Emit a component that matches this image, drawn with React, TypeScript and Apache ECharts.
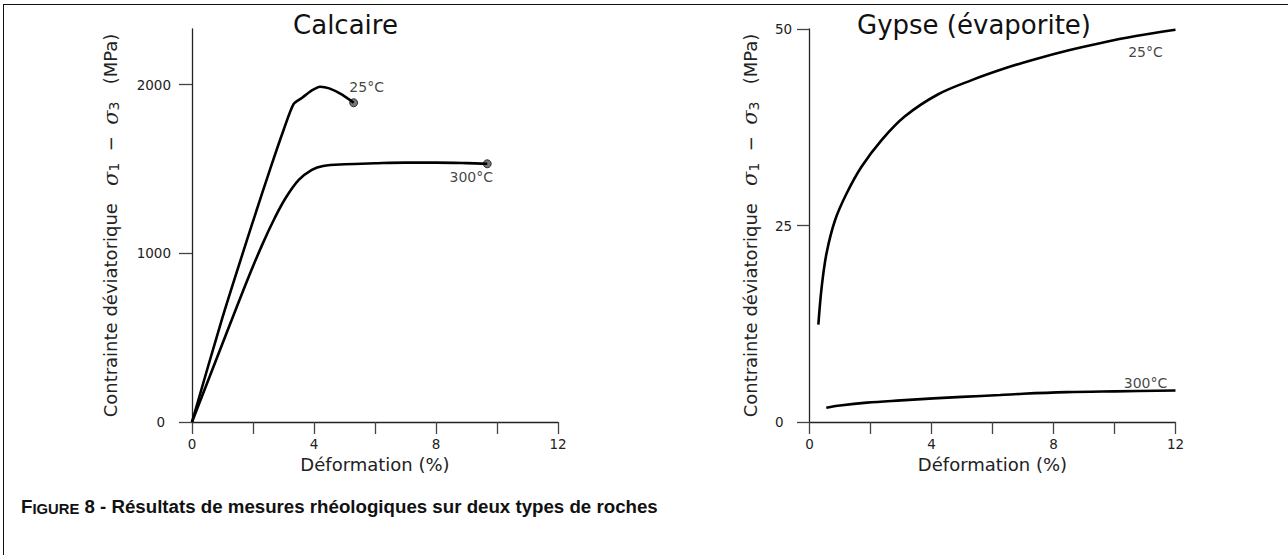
import React, { useEffect, useRef } from 'react';
import * as echarts from 'echarts';

// ---- Data ----
const calc25X = [0, 1, 2, 2.6, 3.0, 3.33, 3.6, 3.93, 4.2, 4.5, 4.92, 5.3];
const calc25Y = [0, 620, 1190, 1520, 1730, 1885, 1921, 1966, 1988, 1978, 1941, 1893];

const calc300X = [0, 1, 1.8, 2.3, 2.7, 3.06, 3.5, 3.93, 4.3, 5, 6, 7, 8, 9, 9.68];
const calc300Y = [0, 465, 835, 1050, 1205, 1325, 1435, 1495, 1518, 1528, 1534, 1538, 1538, 1535, 1531];

const gyp25X = [0.29, 0.4, 0.56, 0.84, 1.22, 1.71, 2.37, 3.13, 4.22, 5.32, 6.41, 7.34, 8.5, 9.52, 10.7, 12];
const gyp25Y = [12.4, 17.2, 21.5, 25.7, 29.1, 32.5, 35.9, 38.9, 41.7, 43.5, 45.0, 46.1, 47.3, 48.2, 49.1, 49.9];

const gyp300X = [0.55, 1.0, 1.88, 3, 4.06, 5, 6.25, 7, 8.43, 10, 12];
const gyp300Y = [1.82, 2.1, 2.46, 2.75, 3.0, 3.2, 3.43, 3.6, 3.8, 3.9, 4.0];

const curveLabels = ['25°C', '300°C'];
const chartTitles = ['Calcaire', 'Gypse (évaporite)'];
const xTickValues = [0, 2, 4, 6, 8, 10, 12];
const xLabelValues = [0, 4, 8, 12];
const calcYTicks = [0, 1000, 2000];
const gypYTicks = [0, 25, 50];
const xName = 'Déformation (%)';
const yName = 'Contrainte déviatorique   {s|σ}{b|1}  −  {s|σ}{b|3}   (MPa)';
const captionLead = 'F';
const captionSmall = 'IGURE';
const captionRest = ' 8 - Résultats de mesures rhéologiques sur deux types de roches';

const FONT = 'DejaVu Sans';
const INK = '#111';

const pairs = (xs: number[], ys: number[]) => xs.map((x, i) => [x, ys[i]]);
const last = (xs: number[], ys: number[]) => [[xs[xs.length - 1], ys[ys.length - 1]]];

const axisLineStyle = { color: '#222', width: 1.3 };
const tickLineStyle = { color: '#444', width: 1.3 };

function makeX(gridIndex: number) {
  return {
    type: 'value',
    gridIndex,
    min: 0,
    max: 12,
    interval: 2,
    axisLine: { show: true, onZero: false, lineStyle: axisLineStyle },
    axisTick: { show: true, length: 12, customValues: xTickValues, lineStyle: tickLineStyle },
    axisLabel: { customValues: xLabelValues, margin: 15, fontFamily: FONT, fontSize: 13.5, color: '#222' },
    splitLine: { show: false },
    name: xName,
    nameLocation: 'middle',
    nameGap: 29,
    nameTextStyle: { fontFamily: FONT, fontSize: 18, color: '#222' },
  };
}

const yNameStyle = (fontSize: number) => ({
  fontFamily: FONT,
  fontSize,
  color: '#222',
  rich: {
    s: { fontFamily: 'DejaVu Serif', fontStyle: 'italic', fontSize: fontSize + 3, color: '#222' },
    b: { fontFamily: FONT, fontSize: fontSize - 4, color: '#222', verticalAlign: 'bottom' },
  },
});

export default function App() {
  const ref = useRef<HTMLDivElement>(null);

  useEffect(() => {
    document.body.style.margin = '0';
    if (!ref.current) return;
    const chart = echarts.init(ref.current, null, { renderer: 'svg' });

    const option: any = {
      animation: false,
      backgroundColor: '#fff',
      title: [
        {
          text: chartTitles[0], left: 345.5, top: 12, textAlign: 'center', padding: 0,
          textStyle: { fontFamily: FONT, fontSize: 26, fontWeight: 'normal', color: INK },
        },
        {
          text: chartTitles[1], left: 974, top: 12, textAlign: 'center', padding: 0,
          textStyle: { fontFamily: FONT, fontSize: 26, fontWeight: 'normal', color: INK },
        },
      ],
      grid: [
        { left: 192, top: 29, width: 366, height: 393 },
        { left: 809.5, top: 29, width: 366, height: 393 },
      ],
      xAxis: [makeX(0), makeX(1)],
      yAxis: [
        {
          type: 'value', gridIndex: 0, min: 0, max: 2330,
          axisLine: { show: true, onZero: false, lineStyle: axisLineStyle },
          axisTick: { show: true, length: 13, customValues: calcYTicks, lineStyle: tickLineStyle },
          axisLabel: {
            customValues: calcYTicks, margin: 21, fontFamily: FONT, fontSize: 13.5, color: '#222',
            formatter: (v: number) => (v === 0 ? '{z|0}' : String(v)),
            rich: { z: { fontFamily: FONT, fontSize: 13.5, color: '#222', padding: [0, 6, 0, 0] } },
          },
          splitLine: { show: false },
          name: yName, nameLocation: 'middle', nameRotate: 90, nameGap: 71,
          nameTextStyle: yNameStyle(18),
        },
        {
          type: 'value', gridIndex: 1, min: 0, max: 50,
          axisLine: { show: true, onZero: false, lineStyle: axisLineStyle },
          axisTick: { show: true, length: 12.5, customValues: gypYTicks, lineStyle: tickLineStyle },
          axisLabel: { customValues: gypYTicks, margin: 34.5, align: 'left', fontFamily: FONT, fontSize: 13.5, color: '#222' },
          splitLine: { show: false },
          name: yName, nameLocation: 'middle', nameRotate: 90, nameGap: 49,
          nameTextStyle: yNameStyle(18),
        },
      ],
      graphic: [
        { type: 'line', shape: { x1: 3, y1: 4.5, x2: 1288, y2: 4.5 }, style: { stroke: '#111', lineWidth: 1 } },
        { type: 'line', shape: { x1: 3.5, y1: 4, x2: 3.5, y2: 555 }, style: { stroke: '#111', lineWidth: 1 } },
        {
          type: 'text', left: 21, top: 497,
          style: {
            text: `{a|${captionLead}}{c|${captionSmall}}{a|${captionRest}}`,
            rich: {
              a: { fontFamily: 'Liberation Sans', fontWeight: 'bold', fontSize: 18.7, fill: INK, verticalAlign: 'bottom' },
              c: { fontFamily: 'Liberation Sans', fontWeight: 'bold', fontSize: 14.8, fill: INK, verticalAlign: 'bottom' },
            },
          },
        },
      ],
      series: [
        {
          type: 'line', xAxisIndex: 0, yAxisIndex: 0, data: pairs(calc25X, calc25Y),
          smooth: 0.25, showSymbol: false, lineStyle: { color: '#000', width: 2.6 },
        },
        {
          type: 'line', xAxisIndex: 0, yAxisIndex: 0, data: pairs(calc300X, calc300Y),
          smooth: 0.35, showSymbol: false, lineStyle: { color: '#000', width: 2.6 },
        },
        {
          type: 'line', xAxisIndex: 1, yAxisIndex: 1, data: pairs(gyp25X, gyp25Y),
          smooth: 0.35, showSymbol: false, lineStyle: { color: '#000', width: 2.6 },
        },
        {
          type: 'line', xAxisIndex: 1, yAxisIndex: 1, data: pairs(gyp300X, gyp300Y),
          smooth: 0.35, showSymbol: false, lineStyle: { color: '#000', width: 2.6 },
        },
        {
          type: 'scatter', xAxisIndex: 0, yAxisIndex: 0, data: last(calc25X, calc25Y), symbolSize: 8,
          itemStyle: { color: '#555', borderColor: '#111', borderWidth: 1 },
          label: { show: true, position: 'inside', offset: [13, -16], formatter: curveLabels[0], fontFamily: FONT, fontSize: 14, color: INK },
        },
        {
          type: 'scatter', xAxisIndex: 0, yAxisIndex: 0, data: last(calc300X, calc300Y), symbolSize: 8,
          itemStyle: { color: '#555', borderColor: '#111', borderWidth: 1 },
          label: { show: true, position: 'inside', offset: [-16, 13], formatter: curveLabels[1], fontFamily: FONT, fontSize: 14, color: INK },
        },
        {
          type: 'scatter', xAxisIndex: 1, yAxisIndex: 1, data: last(gyp25X, gyp25Y), symbolSize: 1,
          itemStyle: { color: 'transparent' },
          label: { show: true, position: 'inside', offset: [-30, 22], formatter: curveLabels[0], fontFamily: FONT, fontSize: 14, color: INK },
        },
        {
          type: 'scatter', xAxisIndex: 1, yAxisIndex: 1, data: last(gyp300X, gyp300Y), symbolSize: 1,
          itemStyle: { color: 'transparent' },
          label: { show: true, position: 'inside', offset: [-30, -8], formatter: curveLabels[1], fontFamily: FONT, fontSize: 14, color: INK },
        },
      ],
    };

    chart.setOption(option);
    return () => chart.dispose();
  }, []);

  return <div ref={ref} style={{ width: 1288, height: 555 }} />;
}
